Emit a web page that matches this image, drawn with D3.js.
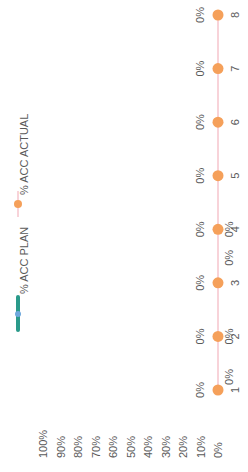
<!DOCTYPE html>
<html>
<head>
<meta charset="utf-8">
<script src="https://cdn.jsdelivr.net/npm/d3@7"></script>
<style>
body { margin: 0; background: #fff; }
text { font-family: "Liberation Sans", Arial, sans-serif; font-size: 11px; fill: #595959; }
</style>
</head>
<body>
<div id="chart"></div>
<script>
// datos
const categories = [1, 2, 3, 4, 5, 6, 7, 8]
const actualValues = [0, 0, 0, 0, 0, 0, 0, 0]
const planCategories = [1, 2, 3, 4]
const planValues = [0, 0, 0, 0]
const yTicks = [0, 0.1, 0.2, 0.3, 0.4, 0.5, 0.6, 0.7, 0.8, 0.9, 1]
const legendLabels = ['% ACC PLAN', '% ACC ACTUAL']

const width = 248
const height = 472

// el grafico se dibuja apaisado y luego se gira -90 grados
const svg = d3.select('#chart').append('svg').attr('width', width).attr('height', height)
const g = svg.append('g').attr('transform', `translate(0, ${height}) rotate(-90)`)

const x = d3.scalePoint().domain(categories).range([82, 457])
const y = d3.scaleLinear().domain([0, 1]).range([218, 43])
const pct = d3.format('.0%')

// etiquetas eje y
g.append('g').selectAll('text').data(yTicks).enter()
    .append('text')
    .attr('x', 14)
    .attr('y', d => y(d))
    .attr('dominant-baseline', 'central')
    .text(d => pct(d))

// linea actual
const line = d3.line().x((d, i) => x(categories[i])).y(d => y(d))
g.append('path')
    .datum(actualValues)
    .attr('d', line)
    .attr('fill', 'none')
    .attr('stroke', '#f6c4cd')
    .attr('stroke-width', 1.5)

g.append('g').selectAll('circle').data(actualValues).enter()
    .append('circle')
    .attr('cx', (d, i) => x(categories[i]))
    .attr('cy', d => y(d))
    .attr('r', 5.5)
    .attr('fill', '#f5a05a')

// etiquetas de datos actual (arriba)
g.append('g').selectAll('text').data(actualValues).enter()
    .append('text')
    .attr('x', (d, i) => x(categories[i]))
    .attr('y', d => y(d) - 18)
    .attr('text-anchor', 'middle')
    .attr('dominant-baseline', 'central')
    .text(d => pct(d))

// etiquetas de datos plan (abajo, algo desplazadas)
const planNudge = [13, 0, 25, 0]
g.append('g').selectAll('text').data(planValues).enter()
    .append('text')
    .attr('x', (d, i) => x(planCategories[i]) + planNudge[i])
    .attr('y', d => y(d) + 11)
    .attr('text-anchor', 'middle')
    .attr('dominant-baseline', 'central')
    .text(d => pct(d))

// etiquetas eje x
g.append('g').selectAll('text').data(categories).enter()
    .append('text')
    .attr('x', d => x(d))
    .attr('y', 235)
    .attr('text-anchor', 'middle')
    .attr('dominant-baseline', 'central')
    .text(d => d)

// leyenda
const legend = g.append('g')
legend.append('line')
    .attr('x1', 142).attr('x2', 175).attr('y1', 18).attr('y2', 18)
    .attr('stroke', '#2a9a8a').attr('stroke-width', 4).attr('stroke-linecap', 'round')
legend.append('circle').attr('cx', 158).attr('cy', 18).attr('r', 3).attr('fill', '#6fa8dc')
legend.append('text').attr('x', 178).attr('y', 24).attr('dominant-baseline', 'central').text(legendLabels[0])

legend.append('line')
    .attr('x1', 255).attr('x2', 281).attr('y1', 18).attr('y2', 18)
    .attr('stroke', '#f6c4cd').attr('stroke-width', 1.5)
legend.append('circle').attr('cx', 268).attr('cy', 18).attr('r', 4).attr('fill', '#f5a05a')
legend.append('text').attr('x', 277).attr('y', 24).attr('dominant-baseline', 'central').text(legendLabels[1])
</script>
</body>
</html>
